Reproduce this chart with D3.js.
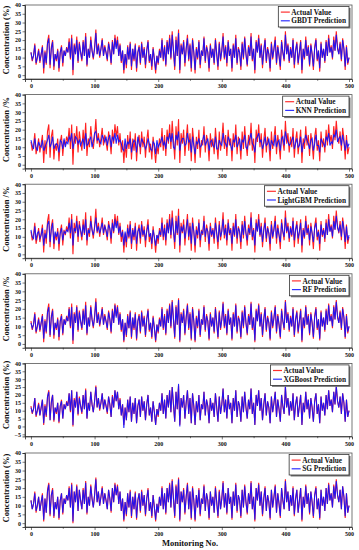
<!DOCTYPE html>
<html>
<head>
<meta charset="utf-8">
<script src="https://cdn.jsdelivr.net/npm/d3@7"></script>
<style>
    body { margin: 0; background: #fff; }
    text { font-family: "Liberation Serif", "Times New Roman", serif; font-weight: bold; }
</style>
</head>
<body>
<svg id="chart" width="359" height="550"></svg>
<script>
// monitoring no. 0..500, read every 2nd sample off the picture
const actual = [
    13,8,11,18,6,10,15,7,12,17,
    1,14,6,19,23,4,16,20,3,12,
    8,15,2,13,17,5,14,11,16,13,
    21,9,23,0,18,12,22,7,19,13,
    8,20,11,24,5,15,10,22,14,9,
    16,26,12,18,10,15,21,11,17,13,
    8,19,14,6,20,12,23,16,22,11,
    18,7,14,1,12,4,17,9,19,3,
    15,8,18,2,13,17,6,19,10,16,
    4,14,20,7,12,3,16,9,1,11,
    6,15,10,21,8,17,5,20,12,23,
    9,25,14,3,22,11,26,1,18,12,
    20,5,15,23,8,18,2,21,13,1,
    16,9,20,4,14,11,22,7,17,13,
    2,18,10,15,6,21,12,3,19,8,
    14,24,9,17,5,20,11,15,2,18,
    10,23,6,16,13,3,19,9,22,12,
    5,17,11,24,8,15,1,20,13,23,
    10,18,4,14,21,7,16,12,2,19,
    9,15,22,6,17,11,3,20,13,8,
    25,12,18,7,16,10,21,4,14,19,
    6,13,20,1,15,9,22,11,17,5,
    18,12,3,16,21,8,14,2,19,10,
    15,7,20,11,23,13,17,9,22,14,
    25,16,12,19,8,21,15,3,17,6,
    10
];
const gbdtPred = [
    13,9,11,17,7,10,14,8,12,16,
    4,13,7,18,21,6,15,19,5,12,
    9,14,4,13,16,7,14,11,15,13,
    19,10,21,3,17,12,20,8,18,13,
    9,19,11,22,6,15,10,20,14,10,
    15,24,12,17,11,15,20,11,16,13,
    9,18,14,7,19,12,21,15,20,11,
    17,8,14,3,12,6,16,9,18,5,
    15,9,17,4,13,16,7,18,10,15,
    6,14,19,8,12,5,15,9,3,11,
    7,14,10,20,9,16,6,19,12,21,
    10,23,14,5,20,11,24,3,17,12,
    19,7,15,21,9,17,4,20,13,3,
    15,10,19,6,14,11,21,8,16,13,
    4,17,10,15,7,20,12,5,18,9,
    14,22,10,16,7,19,11,15,4,17,
    10,21,7,15,13,5,18,10,21,12,
    6,16,11,22,9,15,3,19,13,21,
    10,17,6,14,20,8,15,12,4,18,
    10,15,20,7,16,11,5,19,13,9,
    23,12,17,8,15,10,20,6,14,18,
    7,13,19,3,15,10,20,11,16,6,
    17,12,5,15,20,9,14,4,18,10,
    15,8,19,11,21,13,16,10,20,14,
    23,15,12,18,9,20,15,5,16,7,
    10
];
const knnPred = [
    14,11,9,15,10,8,13,11,10,14,
    8,10,12,14,17,10,12,16,9,11,
    12,11,7,14,13,9,15,10,13,12,
    16,14,18,9,13,16,15,12,14,11,
    13,15,9,18,11,12,14,16,10,13,
    18,19,14,15,13,12,17,15,13,16,
    11,15,17,10,16,14,18,12,17,13,
    14,12,9,8,15,9,13,12,15,7,
    12,14,13,7,16,12,10,15,13,12,
    9,11,15,12,9,8,13,12,6,14,
    10,12,13,16,11,13,9,16,14,18,
    13,18,10,9,17,14,19,8,13,15,
    15,11,12,18,13,14,7,16,11,6,
    13,12,15,10,11,14,17,11,13,15,
    8,13,14,11,10,16,9,9,14,12,
    11,18,13,12,10,16,14,11,8,14,
    13,17,10,12,15,8,14,13,17,10,
    9,13,15,18,12,11,7,15,16,18,
    13,14,9,12,16,11,12,15,8,14,
    12,11,17,10,13,14,8,15,16,11,
    19,15,13,11,12,14,16,9,12,15,
    10,11,16,7,12,13,17,14,12,9,
    14,15,8,12,17,11,11,7,15,13,
    12,10,16,14,18,11,13,12,17,16,
    20,13,15,16,11,17,13,8,14,10,
    12
];
const lightgbmPred = [
    14,10,9,16,8,12,13,9,11,15,
    5,12,9,17,19,7,14,18,6,13,
    10,13,6,12,15,8,13,12,14,13,
    18,12,20,5,15,13,19,10,17,14,
    10,17,12,20,8,14,12,19,14,11,
    15,21,13,16,12,15,18,12,16,14,
    10,17,15,9,18,13,20,15,19,12,
    16,10,13,5,13,7,15,10,17,6,
    14,10,16,6,13,15,9,17,11,14,
    8,13,17,10,12,6,14,10,5,11,
    9,13,11,18,10,15,8,18,12,20,
    11,21,13,7,19,12,22,5,16,13,
    17,9,14,20,10,16,6,18,13,5,
    14,11,18,8,13,12,19,10,15,13,
    6,16,11,14,9,18,12,7,17,10,
    13,20,11,15,8,18,12,14,6,16,
    11,20,9,15,13,7,17,11,19,12,
    8,15,12,21,10,14,5,18,13,20,
    11,16,7,14,18,9,15,12,6,17,
    10,14,19,9,15,11,7,18,13,10,
    21,13,16,9,15,11,19,8,14,17,
    9,13,18,5,14,10,19,12,15,8,
    16,12,7,15,18,10,13,6,17,11,
    14,9,18,11,20,13,16,10,19,14,
    22,15,13,17,10,19,14,7,16,8,
    11
];
const rfPred = [
    12,9,11,17,7,10,14,8,12,16,
    3,13,7,18,21,5,15,19,5,12,
    9,14,4,13,16,6,14,11,15,13,
    20,10,21,2,17,12,21,8,18,13,
    9,19,11,22,6,15,10,21,14,10,
    15,24,12,17,11,15,20,11,16,13,
    9,18,14,7,19,12,22,15,21,11,
    17,8,14,2,12,5,16,9,18,4,
    15,9,17,3,13,16,7,18,10,15,
    5,14,19,8,12,4,15,9,2,11,
    7,14,10,20,9,16,6,19,12,22,
    10,24,14,4,21,11,25,2,17,12,
    19,6,15,22,9,17,3,20,13,2,
    15,10,19,5,14,11,21,8,16,13,
    3,17,10,15,7,20,12,4,18,9,
    14,23,10,16,6,19,11,15,3,17,
    10,22,7,15,13,4,18,10,21,12,
    6,16,11,23,9,15,2,19,13,22,
    10,17,5,14,20,8,15,12,3,18,
    10,15,21,7,16,11,4,19,13,9,
    24,12,17,8,15,10,20,5,14,18,
    7,13,19,2,15,10,21,11,16,6,
    17,12,4,15,20,9,14,3,18,10,
    15,8,19,11,22,13,16,10,21,14,
    24,15,12,18,9,20,15,4,16,7,
    10
];
const xgboostPred = [
    12,9,11,18,7,10,14,7,12,17,
    2,13,7,19,22,4,15,20,4,12,
    9,15,3,13,16,5,14,11,15,13,
    21,10,23,1,17,12,22,8,18,13,
    9,20,11,23,5,15,10,22,14,9,
    16,25,12,18,11,15,21,11,17,13,
    9,19,14,6,19,12,23,16,22,11,
    17,7,14,-1,12,4,17,9,19,3,
    15,8,18,2,13,17,6,19,10,16,
    4,14,20,7,12,3,16,9,1,11,
    7,15,10,21,8,17,5,20,12,23,
    9,25,14,3,22,11,27,0,18,12,
    20,5,15,23,8,18,2,21,13,1,
    16,9,20,4,14,11,22,7,17,13,
    2,18,10,15,6,21,12,3,19,8,
    14,24,9,17,5,20,11,15,2,18,
    10,23,6,16,13,3,19,9,22,12,
    5,17,11,24,8,15,1,20,13,23,
    10,18,4,14,21,7,16,12,2,19,
    9,15,22,6,17,11,3,20,13,8,
    26,12,18,7,16,10,21,4,14,19,
    6,13,20,1,15,9,22,11,17,5,
    18,12,3,16,21,8,14,2,19,10,
    15,7,20,11,23,13,17,9,22,14,
    26,16,12,19,8,21,15,3,17,6,
    10
];
const sgPred = [
    13,8,11,17,7,10,15,7,12,16,
    2,14,6,18,22,5,16,19,4,12,
    8,15,3,13,17,6,14,11,16,13,
    20,9,22,1,18,12,21,7,19,13,
    8,19,11,23,6,15,10,21,14,9,
    16,25,12,18,10,15,20,11,17,13,
    8,19,14,7,20,12,22,16,21,11,
    18,7,14,2,12,5,17,9,18,4,
    15,8,17,3,13,17,7,18,10,16,
    5,14,19,7,12,4,16,9,2,11,
    6,15,10,20,8,17,6,20,12,22,
    9,24,14,4,21,11,25,2,18,12,
    19,6,15,22,8,18,3,20,13,2,
    16,9,19,5,14,11,21,7,17,13,
    3,18,10,15,6,20,12,4,18,8,
    14,23,9,17,6,20,11,15,3,18,
    10,22,7,16,13,4,19,9,21,12,
    6,17,11,23,8,15,2,20,13,22,
    10,18,5,14,20,7,16,12,3,19,
    9,15,21,6,17,11,4,20,13,8,
    24,12,18,7,16,10,20,5,14,19,
    6,13,20,2,15,9,21,11,17,6,
    18,12,4,16,20,8,14,3,19,10,
    15,7,20,11,22,13,17,9,21,14,
    24,16,12,19,8,21,15,4,17,6,
    10
];

const modelNames = ["GBDT", "KNN", "LightGBM", "RF", "XGBoost", "SG"];
const predictions = [gbdtPred, knnPred, lightgbmPred, rfPred, xgboostPred, sgPred];
const yTitles = ["Concentration (%)", "Concentration /%", "Concentration /%",
                 "Concentration /%", "Concentration (%)", "Concentration (%)"];
const yTickSets = [
    [0, 5, 10, 15, 20, 25, 30, 35, 40],
    [0, 5, 10, 15, 20, 25, 30, 35, 40],
    [0, 5, 10, 15, 20, 25, 30, 35, 40],
    [0, 5, 10, 15, 20, 25, 30, 35, 40],
    [-5, 0, 5, 10, 15, 20, 25, 30, 35, 40],
    [0, 5, 10, 15, 20, 25, 30, 35, 40]
];
const xTicks = [0, 100, 200, 300, 400, 500];
const xMinorTicks = [50, 150, 250, 350, 450];
const xTitle = "Monitoring No.";

const svg = d3.select("#chart");
const left = 25, right = 352;
const x = d3.scaleLinear().domain([-9.4, 504.7]).range([left, right]);

class Panel {
    constructor(i) {
        this.i = i;
        this.top = 5 + i * 89.6;
        this.g = svg.append("g").attr("class", "panel");
        let lo = i === 4 ? -6.3 : -2.2;
        this.bottom = this.top + (i === 4 ? 73 : 74);
        this.y = d3.scaleLinear().domain([lo, 40]).range([this.bottom, this.top]);
    }

    draw() {
        let obj = this;
        let g = this.g;

        // series
        let line = d3.line()
            .x((d, k) => x(k * 2))
            .y(d => obj.y(d));
        g.append("path").datum(actual)
            .attr("d", line).attr("fill", "none")
            .attr("stroke", "#ff2020").attr("stroke-width", 1.1);
        g.append("path").datum(predictions[this.i])
            .attr("d", line).attr("fill", "none")
            .attr("stroke", "#1010ff").attr("stroke-width", 1.05)
            .attr("stroke-opacity", 0.92);

        // frame
        g.append("rect")
            .attr("x", left).attr("y", this.top)
            .attr("width", right - left).attr("height", this.bottom - this.top)
            .attr("fill", "none").attr("stroke", "#555").attr("stroke-width", 0.8);

        // axes
        let ya = g.append("g").attr("transform", `translate(${left},0)`)
            .call(d3.axisLeft(this.y).tickValues(yTickSets[this.i]).tickSize(2.5).tickPadding(1.5));
        let xa = g.append("g").attr("transform", `translate(0,${this.bottom})`)
            .call(d3.axisBottom(x).tickValues(xTicks).tickSize(3).tickPadding(2));
        g.append("g").attr("transform", `translate(0,${this.bottom})`)
            .call(d3.axisBottom(x).tickValues(xMinorTicks).tickSize(1.8).tickFormat(""))
            .select(".domain").remove();
        [ya, xa].forEach(a => {
            a.select(".domain").attr("stroke", "#222").attr("stroke-width", 0.8);
            a.selectAll("text").attr("font-size", 6).attr("fill", "#111")
                .style("font-family", "'Liberation Serif', serif").style("font-weight", "bold");
        });
        g.selectAll(".tick line").attr("stroke", "#222").attr("stroke-width", 0.6);

        // y title
        let cy = (this.y(0) + this.y(40)) / 2;
        g.append("text")
            .attr("transform", `translate(9,${cy}) rotate(-90)`)
            .attr("text-anchor", "middle")
            .attr("font-size", 8.5)
            .attr("fill", "#111")
            .text(yTitles[this.i]);

        this._legend();
    }

    _legend() {
        let lg = this.g.append("g");
        let labels = ["Actual Value", modelNames[this.i] + " Prediction"];
        let colors = ["#ff3030", "#3030ff"];
        let ly = this.top + 1.5;
        let texts = labels.map((t, k) => lg.append("text")
            .attr("font-size", 7.3).attr("fill", "#111")
            .attr("y", ly + 8.2 + k * 8.7).text(t));
        let w = d3.max(texts, t => t.node().getComputedTextLength()) + 16;
        let lx = 349 - w;
        let h = 20.5;
        lg.insert("rect", ":first-child")
            .attr("x", lx).attr("y", ly).attr("width", w).attr("height", h)
            .attr("fill", "#fff").attr("stroke", "#333").attr("stroke-width", 0.8);
        lg.insert("rect", ":first-child")
            .attr("x", lx + 1.5).attr("y", ly + 1.5).attr("width", w).attr("height", h)
            .attr("fill", "#777");
        texts.forEach((t, k) => {
            t.attr("x", lx + 13);
            lg.append("line")
                .attr("x1", lx + 2.5).attr("x2", lx + 11.5)
                .attr("y1", ly + 5.6 + k * 8.7).attr("y2", ly + 5.6 + k * 8.7)
                .attr("stroke", colors[k]).attr("stroke-width", 1.2);
        });
    }
}

modelNames.forEach((m, i) => new Panel(i).draw());

svg.append("text")
    .attr("x", 190).attr("y", 546)
    .attr("text-anchor", "middle")
    .attr("font-size", 8.5)
    .attr("fill", "#111")
    .text(xTitle);
</script>
</body>
</html>
